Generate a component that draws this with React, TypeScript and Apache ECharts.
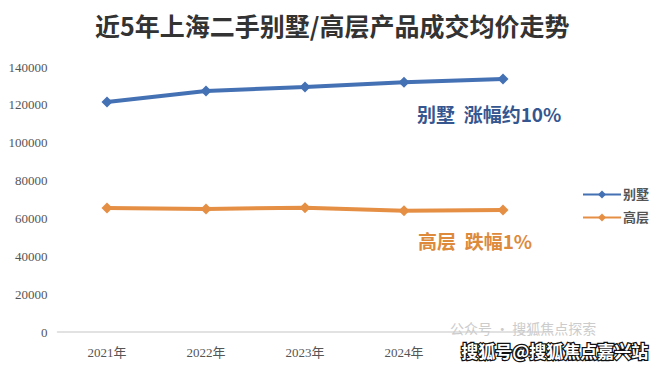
import React, { useEffect, useRef } from "react";
import * as echarts from "echarts";

const years = ["2021年", "2022年", "2023年", "2024年", "2025年"];
const villaPrices = [121500, 127300, 129400, 132000, 133600];
const highRisePrices = [65500, 65000, 65700, 64100, 64400];
const seriesNames = ["别墅", "高层"];
const titleText = "近5年上海二手别墅/高层产品成交均价走势";
const villaNote = "别墅  涨幅约10%";
const highRiseNote = "高层  跌幅1%";
const watermark = "搜狐号@搜狐焦点嘉兴站";
const watermarkFaint = "公众号 · 搜狐焦点探索";

const BLUE = "#4470b4";
const ORANGE = "#e58f45";
const SERIF = "'Liberation Serif', 'Noto Sans CJK SC', serif";

export default function App() {
  const ref = useRef<HTMLDivElement>(null);
  useEffect(() => {
    if (!ref.current) return;
    const chart = echarts.init(ref.current, undefined, { renderer: "svg" });
    chart.setOption({
      animation: false,
      backgroundColor: "#ffffff",
      title: {
        text: titleText,
        left: 90,
        top: 7,
        textStyle: {
          fontFamily: "'Noto Sans CJK SC', sans-serif",
          fontWeight: "bold",
          fontSize: 25,
          color: "#333333",
        },
      },
      legend: {
        orient: "vertical",
        left: 577,
        top: 183,
        itemWidth: 38,
        itemHeight: 10,
        itemGap: 10,
        data: seriesNames,
        textStyle: {
          fontFamily: SERIF,
          fontSize: 13,
          fontWeight: "bold",
          color: "#555555",
          padding: [0, 0, 0, -3],
        },
      },
      grid: { left: 57.5, right: 107.5, top: 67, bottom: 37, containLabel: false },
      xAxis: {
        type: "category",
        data: years,
        boundaryGap: true,
        axisLine: { show: true, lineStyle: { color: "#d9d9d9", width: 1.5 } },
        axisTick: { show: false },
        axisLabel: {
          margin: 14,
          fontFamily: SERIF,
          fontSize: 13,
          color: "#555555",
          formatter: (v: string, i: number) => (i === years.length - 1 ? "" : v),
        },
      },
      yAxis: {
        type: "value",
        min: 0,
        max: 140000,
        interval: 20000,
        axisLine: { show: false },
        axisTick: { show: false },
        splitLine: { show: false },
        axisLabel: {
          margin: 10,
          fontFamily: SERIF,
          fontSize: 13,
          color: "#555555",
          formatter: (v: number) => String(v),
        },
      },
      series: [
        {
          name: seriesNames[0],
          type: "line",
          data: villaPrices,
          symbol: "diamond",
          symbolSize: 11,
          lineStyle: { color: BLUE, width: 4 },
          itemStyle: { color: BLUE },
        },
        {
          name: seriesNames[1],
          type: "line",
          data: highRisePrices,
          symbol: "diamond",
          symbolSize: 11,
          lineStyle: { color: ORANGE, width: 4 },
          itemStyle: { color: ORANGE },
        },
      ],
      graphic: [
        {
          type: "text",
          left: 417,
          top: 104,
          style: {
            text: villaNote,
            fontFamily: "'Noto Sans CJK SC', sans-serif",
            fontWeight: "bold",
            fontSize: 19,
            fill: "#35568f",
          },
        },
        {
          type: "text",
          left: 418,
          top: 231,
          style: {
            text: highRiseNote,
            fontFamily: "'Noto Sans CJK SC', sans-serif",
            fontWeight: "bold",
            fontSize: 19,
            fill: "#dd8a3c",
          },
        },
        {
          type: "text",
          z: 101,
          left: 450,
          top: 321,
          style: {
            text: watermarkFaint,
            fontFamily: "'Noto Sans CJK SC', sans-serif",
            fontSize: 14,
            fill: "#cccccc",
          },
        },
        {
          type: "text",
          z: 102,
          left: 460,
          top: 341,
          style: {
            text: watermark,
            fontFamily: "'Noto Sans CJK SC', sans-serif",
            fontWeight: "bold",
            fontSize: 17,
            fill: "#ffffff",
            stroke: "#111111",
            lineWidth: 2.5,
          },
        },
      ],
    });
    return () => chart.dispose();
  }, []);
  return (
    <div
      ref={ref}
      style={{ position: "fixed", left: 0, top: 0, width: 660, height: 369 }}
    />
  );
}
